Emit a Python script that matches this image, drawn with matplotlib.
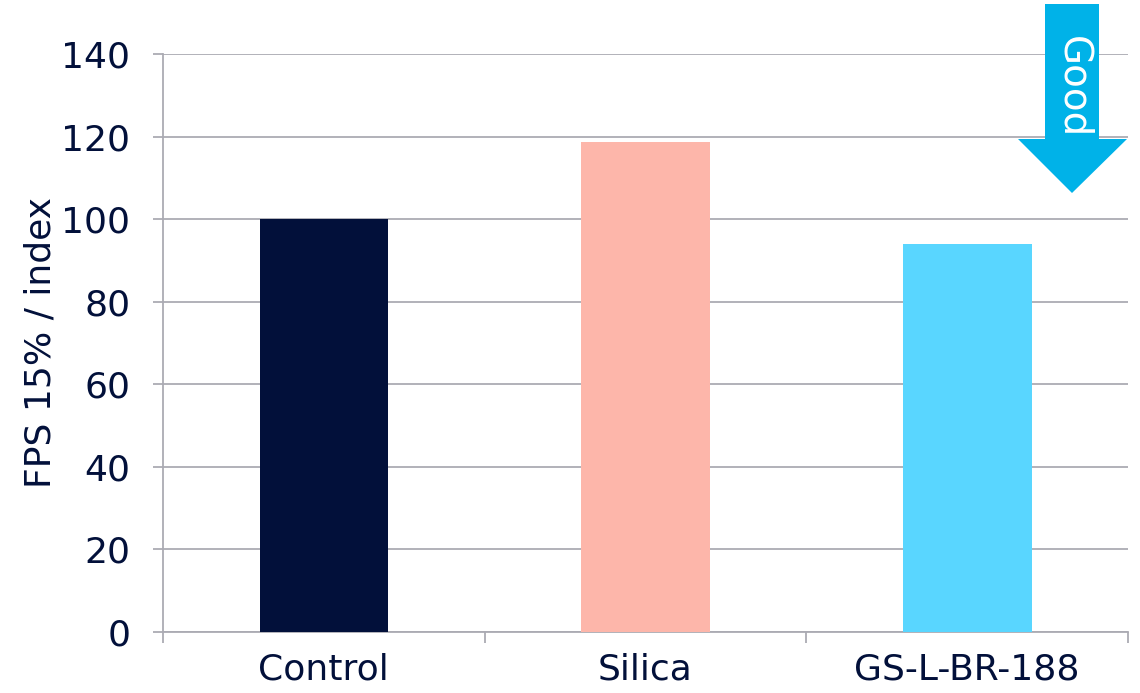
import matplotlib
matplotlib.use("Agg")
import matplotlib.pyplot as plt
from matplotlib.patches import Polygon

categories = ["Control", "Silica", "GS-L-BR-188"]
values = [100, 118.7, 94]
colors = ["#02103A", "#FDB6AA", "#59D6FF"]
yticks = [0, 20, 40, 60, 80, 100, 120, 140]

TEXT = "#02103A"
GRID = "#ABABB3"
plt.rcParams["font.family"] = ["DejaVu Sans"]

W, H = 1140, 693
fig = plt.figure(figsize=(W / 100, H / 100), dpi=100)
ax = fig.add_axes([163 / W, 1 - 632 / H, (1128 - 163) / W, (632 - 54) / H])

x = list(range(len(categories)))
ax.bar(x, values, width=0.4, color=colors, zorder=3)
ax.set_xlim(-0.5, len(categories) - 0.5)
ax.set_ylim(0, 140)
ax.set_yticks(yticks)
ax.set_yticklabels([str(v) for v in yticks], fontsize=26, color=TEXT)
ax.yaxis.grid(True, color=GRID, linewidth=1.3, zorder=0)
ax.set_xticks([i - 0.5 for i in range(len(categories) + 1)], minor=False)
ax.set_xticklabels([])
ax.set_xticks(x, minor=True)
ax.set_xticklabels(categories, minor=True, fontsize=26, color=TEXT)
ax.tick_params(axis="x", which="major", length=8, width=1.3, color=GRID)
ax.tick_params(axis="x", which="minor", length=0, pad=15)
ax.tick_params(axis="y", length=7.5, width=1.3, color=GRID, pad=16)
for s in ["top", "right"]:
    ax.spines[s].set_visible(False)
for s in ["left", "bottom"]:
    ax.spines[s].set_color(GRID)
    ax.spines[s].set_linewidth(1.3)
ax.set_ylabel("FPS 15% / index", fontsize=26, color=TEXT, labelpad=3)

# "Good" arrow annotation in pixel coordinates
def fx(px):
    return px / W

def fy(py):
    return 1 - py / H

arrow_pts = [(1045, 4), (1099, 4), (1099, 139), (1127, 139), (1072, 193),
             (1018, 139), (1045, 139)]
fig.patches.append(Polygon([(fx(a), fy(b)) for a, b in arrow_pts], closed=True,
                           transform=fig.transFigure, facecolor="#00B2E8",
                           edgecolor="none", zorder=5))
fig.text(fx(1073), fy(87), "Good", rotation=-90, ha="center", va="center",
         color="white", fontsize=28, zorder=6)

fig.savefig("out.png", dpi=100)
